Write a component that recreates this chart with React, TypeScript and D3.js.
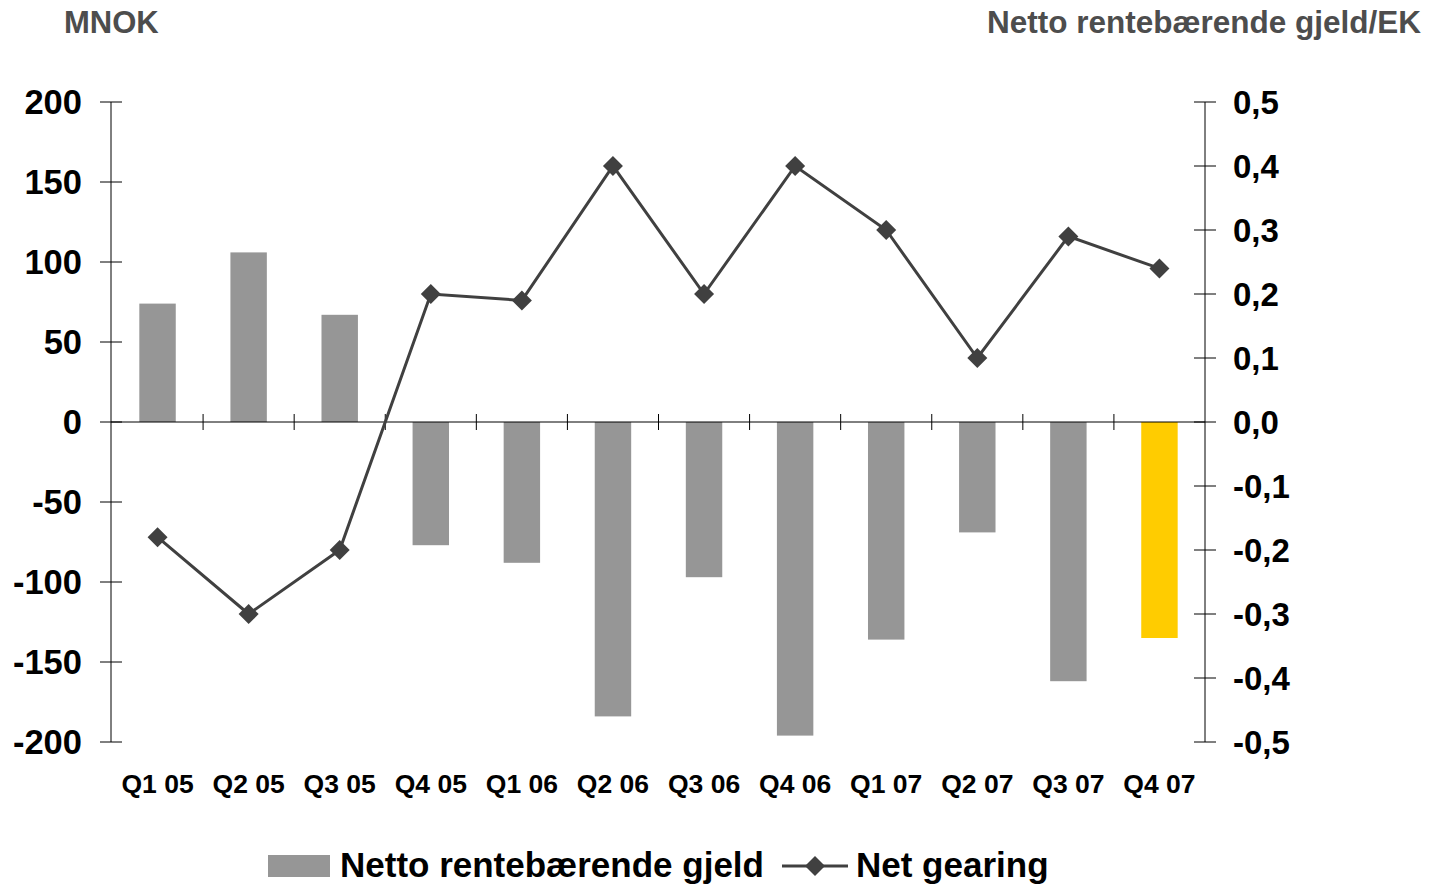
import React from 'react';
import * as d3 from 'd3';

const quarters = ['Q1 05', 'Q2 05', 'Q3 05', 'Q4 05', 'Q1 06', 'Q2 06', 'Q3 06', 'Q4 06', 'Q1 07', 'Q2 07', 'Q3 07', 'Q4 07'];
const nettoGjeld = [74, 106, 67, -77, -88, -184, -97, -196, -136, -69, -162, -135];
const netGearing = [-0.18, -0.3, -0.2, 0.2, 0.19, 0.4, 0.2, 0.4, 0.3, 0.1, 0.29, 0.24];
const leftTicks = [200, 150, 100, 50, 0, -50, -100, -150, -200];
const rightTicks = [0.5, 0.4, 0.3, 0.2, 0.1, 0, -0.1, -0.2, -0.3, -0.4, -0.5];

const W = 1434;
const H = 885;
const margin = { top: 102, right: 229, bottom: 143, left: 112 };

const FONT = '"Liberation Sans", Arial, sans-serif';
const NARROW = '"Liberation Sans Narrow", "Arial Narrow", "Liberation Sans", sans-serif';

export default function App() {
  const x = d3.scaleBand<string>()
    .domain(quarters)
    .range([margin.left, W - margin.right])
    .paddingInner(0.6)
    .paddingOuter(0.3);
  const xEdge = d3.scaleLinear().domain([0, quarters.length]).range([margin.left, W - margin.right]);
  const yL = d3.scaleLinear().domain([-200, 200]).range([H - margin.bottom, margin.top]);
  const yR = d3.scaleLinear().domain([-0.5, 0.5]).range([H - margin.bottom, margin.top]);

  const lineGen = d3.line<number>()
    .x((_, i) => x(quarters[i])! + x.bandwidth() / 2)
    .y(d => yR(d));

  const fmtR = (v: number) => d3.format('.1f')(v).replace('.', ',').replace('−', '-');
  const axL = margin.left - 1;
  const axR = W - margin.right;
  const diamond = (cx: number, cy: number, r: number) =>
    `M${cx},${cy - r}L${cx + r},${cy}L${cx},${cy + r}L${cx - r},${cy}Z`;

  return (
    <svg width={W} height={H} style={{ position: 'absolute', left: 0, top: 0, background: '#fff' }}>
      {/* titles */}
      <text x={64} y={33} fontFamily={FONT} fontWeight="bold" fontSize={31} fill="#4d4d4d">MNOK</text>
      <text x={1421} y={33} textAnchor="end" fontFamily={FONT} fontWeight="bold" fontSize={31.5} fill="#4d4d4d">Netto rentebærende gjeld/EK</text>

      {/* bars */}
      {nettoGjeld.map((v, i) => (
        <rect key={quarters[i]}
          x={x(quarters[i])}
          y={Math.min(yL(v), yL(0))}
          width={x.bandwidth()}
          height={Math.abs(yL(v) - yL(0))}
          fill={i === quarters.length - 1 ? '#ffcc00' : '#969696'} />
      ))}

      {/* left axis */}
      <line x1={axL} x2={axL} y1={yL(200)} y2={yL(-200)} stroke="#000" strokeWidth={1} />
      {leftTicks.map(t => (
        <g key={t}>
          <line x1={axL - 11} x2={axL + 11} y1={yL(t)} y2={yL(t)} stroke="#000" strokeWidth={1} />
          <text x={82} y={yL(t)} dy="0.36em" textAnchor="end" fontFamily={FONT} fontWeight="bold" fontSize={34.5} fill="#000">{t}</text>
        </g>
      ))}

      {/* right axis */}
      <line x1={axR} x2={axR} y1={yR(0.5)} y2={yR(-0.5)} stroke="#000" strokeWidth={1} />
      {rightTicks.map(t => (
        <g key={t}>
          <line x1={axR - 11} x2={axR + 11} y1={yR(t)} y2={yR(t)} stroke="#000" strokeWidth={1} />
          <text x={1233} y={yR(t)} dy="0.36em" textAnchor="start" fontFamily={FONT} fontWeight="bold" fontSize={33} fill="#000">{fmtR(t)}</text>
        </g>
      ))}

      {/* zero line with category ticks */}
      <line x1={axL} x2={axR} y1={yL(0)} y2={yL(0)} stroke="#000" strokeWidth={1} />
      {d3.range(1, quarters.length).map(i => (
        <line key={i} x1={xEdge(i)} x2={xEdge(i)} y1={yL(0) - 8} y2={yL(0) + 8} stroke="#000" strokeWidth={1} />
      ))}

      {/* category labels */}
      {quarters.map(q => (
        <text key={q} x={x(q)! + x.bandwidth() / 2} y={793} textAnchor="middle" fontFamily={FONT} fontWeight="bold" fontSize={26.5} fill="#000">{q}</text>
      ))}

      {/* net gearing line */}
      <path d={lineGen(netGearing)!} fill="none" stroke="#404040" strokeWidth={3} />
      {netGearing.map((v, i) => (
        <path key={i} d={diamond(x(quarters[i])! + x.bandwidth() / 2, yR(v), 10)} fill="#404040" />
      ))}

      {/* legend */}
      <rect x={268} y={855} width={62} height={22} fill="#969696" />
      <text x={340} y={877} fontFamily={NARROW} fontWeight="bold" fontSize={35} fill="#000">Netto rentebærende gjeld</text>
      <line x1={782} x2={848} y1={866} y2={866} stroke="#404040" strokeWidth={3} />
      <path d={diamond(815, 866, 10)} fill="#404040" />
      <text x={856} y={877} fontFamily={NARROW} fontWeight="bold" fontSize={35} fill="#000">Net gearing</text>
    </svg>
  );
}
